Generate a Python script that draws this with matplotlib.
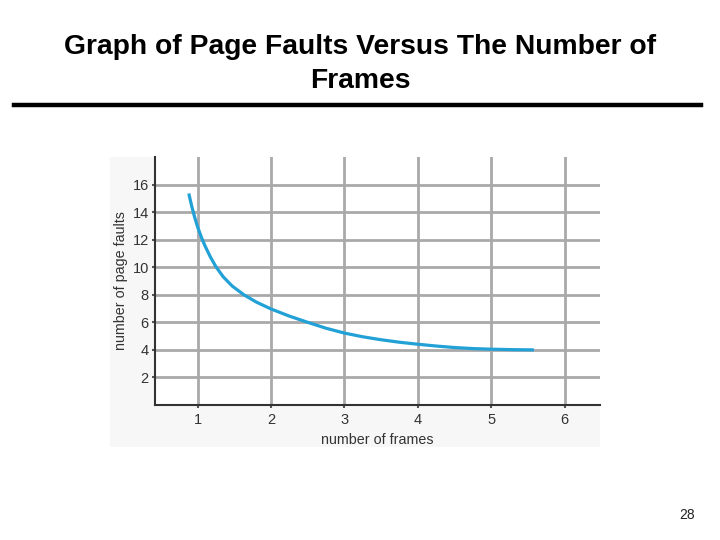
import matplotlib
matplotlib.use("Agg")
import matplotlib.pyplot as plt
from matplotlib.patches import Rectangle
from matplotlib.lines import Line2D

plt.rcParams["font.family"] = ["Liberation Sans", "DejaVu Sans"]

# values
frames = [0.88, 0.92, 0.96, 1.0, 1.05, 1.1, 1.17, 1.25, 1.35, 1.47, 1.63, 1.8, 2.0,
          2.25, 2.5, 2.75, 3.0, 3.25, 3.5, 3.75, 4.0, 4.25, 4.5, 4.75, 5.0, 5.3, 5.58]
faults = [15.35, 14.43, 13.63, 12.93, 12.2, 11.56, 10.79, 10.03, 9.3, 8.64, 8.0, 7.47, 6.97,
          6.45, 6.0, 5.57, 5.22, 4.95, 4.735, 4.555, 4.41, 4.28, 4.17, 4.095, 4.05, 4.017, 4.0]

x_ticks = [1, 2, 3, 4, 5, 6]
y_ticks = [2, 4, 6, 8, 10, 12, 14, 16]

title = "Graph of Page Faults Versus The Number of\nFrames"
page_no = "28"

fig = plt.figure(figsize=(7.2, 5.4), dpi=100)
fig.patch.set_facecolor("white")

# faint grey backdrop of the pasted figure
fig.patches.append(Rectangle((110 / 720, 1 - 447 / 540), 490 / 720, 290 / 540,
                             transform=fig.transFigure, facecolor="#f7f7f7",
                             edgecolor="none", zorder=-5))

fig.text(0.5, 1 - 64 / 540, title, ha="center", va="center", fontsize=20.3,
         fontweight="bold", linespacing=1.4)
fig.lines.append(Line2D([14 / 720, 701 / 720], [1 - 105 / 540, 1 - 105 / 540],
                        transform=fig.transFigure, color="black", linewidth=3.2))
fig.text(687 / 720, 1 - 515 / 540, page_no, ha="center", va="center", fontsize=10,
         color="#222222")

ax = fig.add_axes([155 / 720, 1 - 405 / 540, 445 / 720, 248 / 540])
ax.set_zorder(2)
ax.set_facecolor("white")
ax.set_xlim(0.42, 6.48)
ax.set_ylim(0, 18)
ax.set_xticks(x_ticks)
ax.set_yticks(y_ticks)
ax.grid(True, color="#a9a9a9", linewidth=2)
ax.set_axisbelow(True)

ax.plot(frames, faults, color="#21a1d6", linewidth=2.3, solid_joinstyle="round",
        solid_capstyle="butt")

for side in ["top", "right"]:
    ax.spines[side].set_visible(False)
for side in ["left", "bottom"]:
    ax.spines[side].set_color("#333333")
    ax.spines[side].set_linewidth(1.5)

ax.tick_params(axis="both", direction="out", length=2, width=1.5, color="#555555",
               labelsize=10.5, labelcolor="#333333")
ax.tick_params(axis="y", pad=2.5)
ax.tick_params(axis="x", pad=4)
ax.set_xlabel("number of frames", fontsize=10.3, color="#333333", labelpad=4)
ax.set_ylabel("number of page faults", fontsize=10.3, color="#333333", labelpad=3)

fig.savefig("out.png", dpi=100)
